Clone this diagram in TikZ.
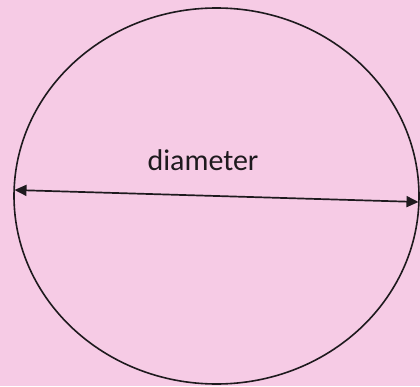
\documentclass[tikz,border=0pt]{standalone}
\usepackage{fontspec}
\setmainfont{Carlito}
\usetikzlibrary{arrows.meta,shapes.geometric}
\definecolor{rosa}{RGB}{246,203,229}
\definecolor{tinta}{RGB}{30,26,30}
\tikzset{
  borde/.style={draw=tinta, line width=1.6pt, ellipse, inner sep=0pt},
  diam/.style={{Triangle[length=12pt,width=11pt]}-{Triangle[length=12pt,width=11pt]}, line width=1.7pt, tinta},
  et/.style={font=\fontsize{30}{33}\selectfont, text=tinta},
}
\begin{document}
\begin{tikzpicture}[x=1pt, y=1pt]
  \fill[rosa] (0,0) rectangle (420,386);
  \useasboundingbox (0,0) rectangle (420,386);
  \node[borde, minimum width=405pt, minimum height=376pt] (circ) at (216.5,190) {};
  \coordinate (izq) at (14.5,196);
  \coordinate (der) at (418.5,184);
  \draw[diam] (izq)--(der);
  \node[et] (lab) at (203,226) {diameter};
\end{tikzpicture}
\end{document}
